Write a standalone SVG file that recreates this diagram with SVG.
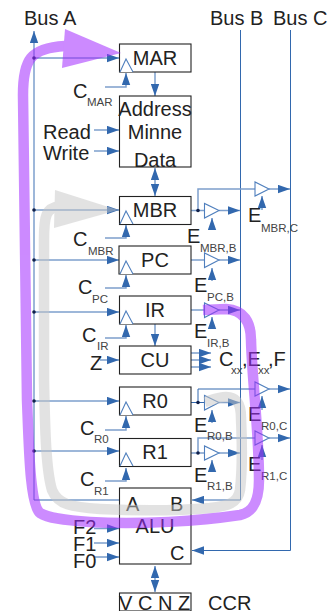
<svg xmlns="http://www.w3.org/2000/svg" width="334" height="611" viewBox="0 0 334 611">
<defs>
<marker id="ah" markerUnits="userSpaceOnUse" markerWidth="12" markerHeight="9" refX="12" refY="4.500" orient="auto"><path d="M0 0.300L12 4.500L0 8.700Z" fill="#3268ae"/></marker>
<marker id="as" markerUnits="userSpaceOnUse" markerWidth="12" markerHeight="9" refX="0" refY="4.500" orient="auto"><path d="M12 0.300L0 4.500L12 8.700Z" fill="#3268ae"/></marker>
</defs>
<style>
text{font-family:"Liberation Sans",Arial,sans-serif;font-size:20px;fill:#222}
.s{font-size:11.5px;fill:#444}
.m{text-anchor:middle}
.b{fill:#fff;stroke:#222;stroke-width:1.1}
.c{fill:none;stroke:#3268ae;stroke-width:1}
.l{fill:none;stroke:#7d9fcc;stroke-width:1.5}
.a{marker-end:url(#ah)}
.d{marker-end:url(#ah);marker-start:url(#as)}
.t{fill:#fff;stroke:#4f7fbd;stroke-width:1.1}
.dot{fill:#10204a}
</style>
<g id="connectors">
<path class="l a" d="M34 500V31"/>
<path class="c" d="M34 500H119"/>
<path class="c" d="M240.500 30V500"/>
<path class="c a" d="M240.500 500H192"/>
<path class="c" d="M290.500 30V550.500"/>
<path class="c a" d="M290.500 550.500H192"/>
<path class="c a" d="M34 58H119"/>
<path class="l a" d="M34 210H119"/>
<path class="l a" d="M34 260H119"/>
<path class="l a" d="M34 312H119"/>
<path class="l a" d="M34 401H119"/>
<path class="l a" d="M34 451H119"/>
<path class="l a" d="M105 87H126V73"/>
<path class="l a" d="M105 238H126V225"/>
<path class="l a" d="M105 288H126V275"/>
<path class="l a" d="M105 338H126V325"/>
<path class="l a" d="M105 430H126V416"/>
<path class="l a" d="M105 481H126V468"/>
<path class="l a" d="M94 130H119"/>
<path class="l a" d="M94 151H119"/>
<path class="l a" d="M100 360H119"/>
<path class="l a" d="M94 528.500H119"/>
<path class="l a" d="M94 543H119"/>
<path class="c a" d="M94 557H119"/>
<path class="l a" d="M155 72V96"/>
<path class="l d" d="M155 168V196"/>
<path class="l a" d="M155 324V346"/>
<path class="l d" d="M155 566V592"/>
<path class="l" d="M191 210.500H204M198 210.500V189H255"/>
<path class="l a" d="M219 210.500H240"/>
<path class="l a" d="M269 189H290"/>
<path class="l a" d="M212 227V218"/>
<path class="l a" d="M262 210V196"/>
<path class="l" d="M191 260H204"/><path class="l a" d="M219 260H240"/><path class="l a" d="M212 281V268"/>
<path class="l" d="M191 310H204"/><path class="l a" d="M219 310H240"/><path class="l a" d="M212 327V317"/>
<path class="l a" d="M191 353H211"/><path class="l a" d="M191 360H211"/><path class="l a" d="M191 367H211"/>
<path class="c" d="M191 402.500H204M198 402.500V389H255"/>
<path class="l a" d="M219 402.500H240"/><path class="l a" d="M269 389H290"/><path class="l a" d="M212 423V410"/><path class="l a" d="M262 410V396"/>
<path class="l" d="M191 453H204M198 453V438H255"/>
<path class="l a" d="M219 453H240"/><path class="l a" d="M269 438H290"/><path class="l a" d="M212 469V460"/><path class="l a" d="M262 460V445"/>
<circle class="dot" cx="34" cy="58" r="1.800"/><circle class="dot" cx="34" cy="210" r="1.800"/><circle class="dot" cx="34" cy="260" r="1.800"/><circle class="dot" cx="34" cy="312" r="1.800"/><circle class="dot" cx="34" cy="401" r="1.800"/><circle class="dot" cx="34" cy="451" r="1.800"/>
<circle class="dot" cx="198" cy="210.500" r="1.800"/><circle class="dot" cx="198" cy="402.500" r="1.800"/><circle class="dot" cx="198" cy="453" r="1.800"/>
</g>
<g id="MAR"><rect class="b" x="119.500" y="44" width="71.500" height="28"/><path class="t" d="M120 72L126 59L133 72"/><text class="m" x="155" y="65">MAR</text></g>
<g id="Memory"><rect class="b" x="119.500" y="96" width="71.500" height="71"/><text class="m" x="155" y="116">Address</text><text class="m" x="155" y="139">Minne</text><text class="m" x="155" y="167">Data</text></g>
<g id="MBR"><rect class="b" x="119.500" y="196.500" width="71.500" height="28"/><path class="t" d="M120 224L126 211L133 224"/><text class="m" x="155" y="217">MBR</text></g>
<g id="PC"><rect class="b" x="119" y="246" width="72" height="28"/><path class="t" d="M120 274L126 261L133 274"/><text class="m" x="155" y="267">PC</text></g>
<g id="IR"><rect class="b" x="119.500" y="296" width="71.500" height="28"/><path class="t" d="M120 324L126 311L133 324"/><text class="m" x="155" y="317">IR</text></g>
<g id="CU"><rect class="b" x="119.500" y="346" width="71.500" height="28"/><text class="m" x="155" y="367">CU</text></g>
<g id="R0"><rect class="b" x="119.500" y="387" width="71.500" height="28"/><path class="t" d="M120 415L126 402L133 415"/><text class="m" x="155" y="408">R0</text></g>
<g id="R1"><rect class="b" x="119.500" y="438.500" width="71.500" height="28"/><path class="t" d="M120 466L126 453L133 466"/><text class="m" x="155" y="459">R1</text></g>
<g id="ALU"><rect class="b" x="119.500" y="488" width="71.500" height="76"/><text x="126" y="511">A</text><text x="170" y="511">B</text><text class="m" x="155" y="533">ALU</text><text x="170" y="560">C</text></g>
<g id="CCR"><rect class="b" x="119.500" y="593" width="71.500" height="18"/><text x="119" y="610">V C N Z</text><text x="208" y="610">CCR</text></g>
<g id="buffers">
<path class="t" d="M204.500 203.500V218L219 210.500Z"/><path class="t" d="M255 182V196L269 189Z"/>
<path class="t" d="M204.500 253V267.500L219 260Z"/>
<path class="t" d="M204.500 303V317.500L219 310Z"/>
<path class="t" d="M204.500 395.500V410L219 402.500Z"/><path class="t" d="M255 382V396L269 389Z"/>
<path class="t" d="M204.500 446V460L219 453Z"/><path class="t" d="M255 431V445L269 438Z"/>
</g>
<g id="labels">
<text x="24" y="25">Bus A</text><text x="210" y="25">Bus B</text><text x="273" y="25">Bus C</text>
<text x="73" y="98">C</text><text class="s" x="87" y="106">MAR</text>
<text x="43" y="139">Read</text><text x="43" y="160">Write</text>
<text x="73" y="246">C</text><text class="s" x="88" y="255">MBR</text>
<text x="78" y="294">C</text><text class="s" x="92" y="303">PC</text>
<text x="82" y="342">C</text><text class="s" x="97" y="350">IR</text>
<text x="90" y="370">Z</text>
<text x="80" y="435">C</text><text class="s" x="94" y="443">R0</text>
<text x="80" y="486">C</text><text class="s" x="94" y="495">R1</text>
<text x="73" y="534">F2</text><text x="73" y="551">F1</text><text x="73" y="568">F0</text>
<text x="248" y="222">E</text><text class="s" x="261" y="232">MBR,C</text>
<text x="187" y="243">E</text><text class="s" x="200" y="252">MBR,B</text>
<text x="194" y="292">E</text><text class="s" x="207" y="301">PC,B</text>
<text x="194" y="338">E</text><text class="s" x="207" y="347">IR,B</text>
<text x="219" y="366">C</text><text class="s" x="231" y="374">xx</text><text x="242" y="366">,E</text><text class="s" x="258" y="374">xx</text><text x="268" y="366">,F</text>
<text x="194" y="432">E</text><text class="s" x="207" y="440">R0,B</text>
<text x="194" y="482">E</text><text class="s" x="207" y="490">R1,B</text>
<text x="248" y="421">E</text><text class="s" x="261" y="430">R0,C</text>
<text x="248" y="471">E</text><text class="s" x="261" y="480">R1,C</text>
</g>
<g id="highlights" fill="none">
<g opacity=".5">
<path d="M205 402C212 400 218 397 226 397C238 397 241 405 241 418C242 440 243 465 240 490C238 503 228 506 210 508C175 511 140 511 100 509C72 507 58 505 52 490C46 470 45 430 44 380L44 240C44 215 46 208 60 206" stroke="#c6c6c6" stroke-width="10.500"/>
<path d="M55 190L118 210L54 228Z" fill="#c6c6c6"/>
</g>
<g opacity=".55">
<path d="M203 310L226 309C244 310 251 322 251 340C252 380 259 430 259 480C259 500 254 512 240 515C200 521 140 525 90 522C62 520 48 518 40 513C30 505 29 450 27 400L23 95C23 60 30 48 65 46" stroke="#a32bff" stroke-width="10.500"/>
<path d="M65 29L121 53L62 68Z" fill="#a32bff"/>
</g>
</g>
</svg>
